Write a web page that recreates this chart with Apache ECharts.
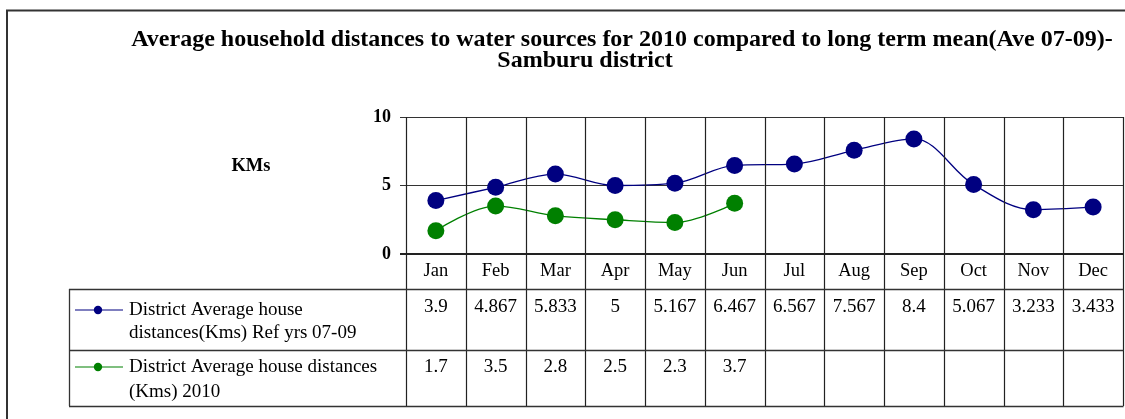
<!DOCTYPE html>
<html>
<head>
<meta charset="utf-8">
<script src="https://cdn.jsdelivr.net/npm/echarts@6/dist/echarts.min.js"></script>
<style>
  html, body { margin: 0; padding: 0; background: #fff; }
  #chart { width: 1125px; height: 419px; }
</style>
</head>
<body>
<div id="chart"></div>
<script>
const months = ['Jan', 'Feb', 'Mar', 'Apr', 'May', 'Jun', 'Jul', 'Aug', 'Sep', 'Oct', 'Nov', 'Dec'];
const refValues = [3.9, 4.867, 5.833, 5, 5.167, 6.467, 6.567, 7.567, 8.4, 5.067, 3.233, 3.433];
const values2010 = [1.7, 3.5, 2.8, 2.5, 2.3, 3.7];
const seriesNames = [
  'District Average house\ndistances(Kms) Ref yrs 07-09',
  'District Average house distances\n(Kms) 2010'
];
const seriesColors = ['#000080', '#008000'];
const yTicks = [0, 5, 10];

const serif = '"Liberation Serif", "Times New Roman", serif';
const gridColor = '#333';

const chart = echarts.init(document.getElementById('chart'));

chart.setOption({
  animation: false,
  backgroundColor: '#fff',
  grid: { left: 406, top: 117, width: 717, height: 137 },
  xAxis: {
    type: 'category',
    data: months,
    boundaryGap: true,
    axisLine: { show: false },
    axisTick: { show: false },
    splitLine: { show: false },
    axisLabel: { color: '#000', fontFamily: serif, fontSize: 18.5, margin: 8 }
  },
  yAxis: {
    type: 'value',
    min: yTicks[0],
    max: yTicks[yTicks.length - 1],
    interval: 5,
    axisLine: { show: false },
    axisTick: { show: true, length: 6, lineStyle: { color: gridColor } },
    splitLine: { show: true, lineStyle: { color: gridColor, width: 1 } },
    axisLabel: { color: '#000', fontFamily: serif, fontSize: 18, fontWeight: 'bold', margin: 15 }
  },
  series: [
    {
      name: seriesNames[0],
      type: 'line',
      data: refValues,
      smooth: 0.35,
      symbol: 'circle',
      symbolSize: 17,
      itemStyle: { color: seriesColors[0] },
      lineStyle: { color: seriesColors[0], width: 1.3 }
    },
    {
      name: seriesNames[1],
      type: 'line',
      data: values2010,
      smooth: 0.35,
      symbol: 'circle',
      symbolSize: 17,
      itemStyle: { color: seriesColors[1] },
      lineStyle: { color: seriesColors[1], width: 1.3 }
    }
  ]
});

// table and decorations, placed from the chart's own scales
const g = [];
const centers = months.map((m, i) => chart.convertToPixel({ xAxisIndex: 0 }, i));
const band = centers[1] - centers[0];
const xLeft = centers[0] - band / 2;
const xRight = centers[centers.length - 1] + band / 2;
const yTop = chart.convertToPixel({ yAxisIndex: 0 }, yTicks[yTicks.length - 1]);
const yZero = chart.convertToPixel({ yAxisIndex: 0 }, 0);
const rowTops = [289, 350, 406];
const tableLeft = 69;
const cellFont = '19px ' + serif;

function hline(x1, x2, y, w, c) {
  g.push({ type: 'line', z: 5, shape: { x1: x1, y1: y, x2: x2, y2: y }, style: { stroke: c || gridColor, lineWidth: w || 1 } });
}
function vline(x, y1, y2, w, c) {
  g.push({ type: 'line', z: 5, shape: { x1: x, y1: y1, x2: x, y2: y2 }, style: { stroke: c || gridColor, lineWidth: w || 1 } });
}
function text(t, x, y, opts) {
  g.push({
    type: 'text', z: 6, x: x, y: y,
    style: Object.assign({ text: t, fill: '#000', font: cellFont, align: 'center', verticalAlign: 'middle' }, opts || {})
  });
}

// outer frame
hline(6, 1125, 10.5, 2, '#333');
vline(7, 10, 419, 2, '#333');

// titles
text('Average household distances to water sources for 2010 compared to long term mean(Ave 07-09)-', 622, 40, { font: 'bold 24px ' + serif });
text('Samburu district', 585, 61, { font: 'bold 24px ' + serif });
text('KMs', 251, 166, { font: 'bold 18.5px ' + serif });

// plot frame
hline(401, Math.round(xRight) + 0.5, Math.round(yTop) + 0.5, 1);
hline(400, Math.round(xRight) + 0.5, Math.round(yZero), 2.2, '#222');

// column boundaries, through the plot, month row and table
for (let i = 0; i <= months.length; i++) {
  const x = Math.round(xLeft + band * i) + 0.5;
  vline(x, Math.round(yTop), rowTops[rowTops.length - 1], 1.2, '#222');
}
rowTops.forEach(function (y) { hline(tableLeft, Math.round(xRight) + 0.5, y + 0.5, 1.3); });
vline(tableLeft + 0.5, rowTops[0], rowTops[rowTops.length - 1], 1.3);

// table rows
const tableRows = [refValues, values2010];
const lineOffsets = [[21, 44], [17, 42]];
tableRows.forEach(function (vals, r) {
  const top = rowTops[r];
  const yMid = top + lineOffsets[r][0];
  g.push({ type: 'line', z: 6, shape: { x1: 75, y1: yMid, x2: 123, y2: yMid }, style: { stroke: seriesColors[r], lineWidth: 1.2 } });
  g.push({ type: 'circle', z: 7, shape: { cx: 98, cy: yMid, r: 4.2 }, style: { fill: seriesColors[r] } });
  const parts = seriesNames[r].split('\n');
  parts.forEach(function (p, k) {
    text(p, 129, top + lineOffsets[r][k], { align: 'left' });
  });
  vals.forEach(function (v, i) {
    text(String(v), centers[i], top + (r === 0 ? 18 : 17));
  });
});

chart.setOption({ graphic: g });
</script>
</body>
</html>
